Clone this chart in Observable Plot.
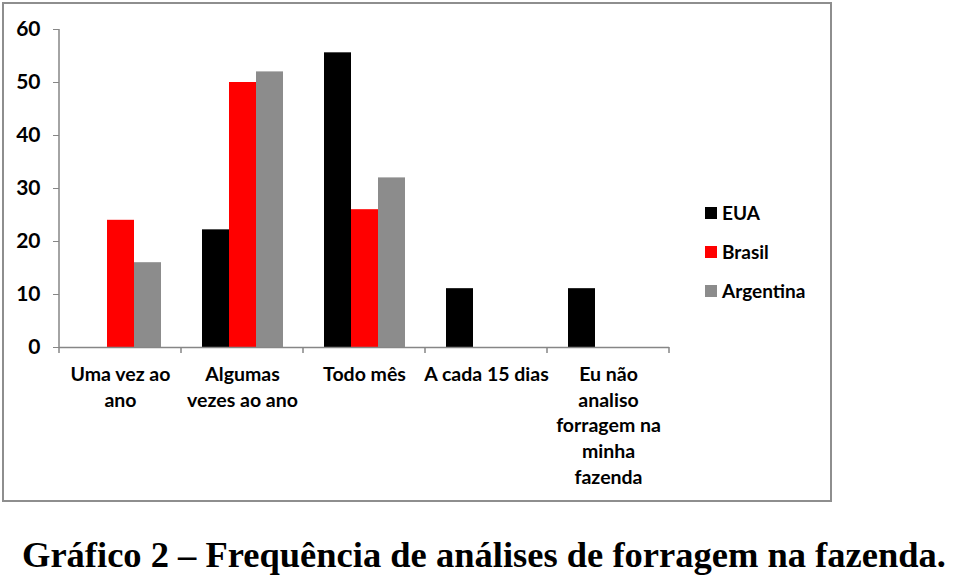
<!DOCTYPE html>
<html>
<head>
<meta charset="utf-8">
<script src="https://cdn.jsdelivr.net/npm/d3@7"></script>
<script src="https://cdn.jsdelivr.net/npm/@observablehq/plot@0.6"></script>
<style>
  html, body { margin: 0; padding: 0; background: #fff; width: 960px; height: 580px; overflow: hidden; }
  #box { position: absolute; left: 2px; top: 2px; width: 826px; height: 496px; border: 2px solid #8e8e8e; box-sizing: content-box; }
  #chart { position: absolute; left: 0; top: 0; }
  #legend { position: absolute; left: 705px; top: 193px; font-family: Lato, "Open Sans", sans-serif; font-weight: bold; font-size: 19px; color: #000; }
  #legend .row { display: flex; align-items: center; height: 39px; }
  #legend .sw { width: 12px; height: 12px; margin-right: 5px; }
  #title { position: absolute; left: 22px; top: 533px; font-family: "Liberation Serif", "Times New Roman", serif; font-weight: bold; font-size: 36.5px; color: #000; white-space: nowrap; }
</style>
</head>
<body>
<div id="chart"></div>
<div id="box"></div>
<div id="legend"></div>
<div id="title">Gráfico 2 – Frequência de análises de forragem na fazenda.</div>
<script>
const categories = ["Uma vez ao ano", "Algumas vezes ao ano", "Todo mês", "A cada 15 dias", "Eu não analiso forragem na minha fazenda"];
const categoryLabels = ["Uma vez ao\nano", "Algumas\nvezes ao ano", "Todo mês", "A cada 15 dias", "Eu não\nanaliso\nforragem na\nminha\nfazenda"];
const series = ["EUA", "Brasil", "Argentina"];
const eua = [0, 22.2, 55.6, 11.1, 11.1];
const brasil = [24, 50, 26, 0, 0];
const argentina = [16, 52, 32, 0, 0];
const colors = ["#000000", "#ff0000", "#8c8c8c"];
const yTicks = [0, 10, 20, 30, 40, 50, 60];

const valuesBySeries = [eua, brasil, argentina];
const data = [];
categories.forEach((c, i) => {
  series.forEach((s, j) => data.push({category: c, series: s, value: valuesBySeries[j][i]}));
});

const plot = Plot.plot({
  width: 700,
  height: 500,
  marginLeft: 57,
  marginRight: 30,
  marginTop: 29,
  marginBottom: 153,
  style: {fontFamily: "Lato, 'Open Sans', sans-serif", fontWeight: "bold", fontSize: "19px", color: "#000", background: "transparent"},
  fx: {domain: categories, padding: 0, axis: null, label: null},
  x: {domain: series, paddingInner: 0, paddingOuter: 0.75, axis: null},
  y: {domain: [0, 60], axis: null},
  color: {domain: series, range: colors},
  marks: [
    Plot.barY(data, {fx: "category", x: "series", y: "value", fill: "series"}),
    Plot.ruleY([0], {stroke: "#868686", strokeWidth: 1.5}),
    Plot.axisY({ticks: yTicks, tickSize: 6, tickPadding: 13, stroke: "#868686", label: null, fill: "#000", fontSize: 21, fontWeight: "bold"}),
    Plot.text(categories, {fx: d => d, text: (d, i) => categoryLabels[i], frameAnchor: "bottom", lineAnchor: "top", dy: 15, lineHeight: 1.32, fontSize: 19.5, fontWeight: "bold", fill: "#000"})
  ]
});
document.getElementById("chart").appendChild(plot);

// axis line and category boundary ticks from the library's scales
const svg = d3.select(plot);
const y = plot.scale("y");
const fx = plot.scale("fx");
const y0 = y.apply(0), y1 = y.apply(60);
const left = fx.apply(categories[0]);
const step = fx.step != null ? fx.step : fx.bandwidth;
const g = svg.append("g").attr("stroke", "#868686").attr("stroke-width", 1.5);
g.append("line").attr("x1", left).attr("x2", left).attr("y1", y1).attr("y2", y0);
for (let i = 0; i <= categories.length; i++) {
  const xx = left + i * step;
  g.append("line").attr("x1", xx).attr("x2", xx).attr("y1", y0).attr("y2", y0 + 6);
}

// legend
const legend = d3.select("#legend");
series.forEach((s, j) => {
  const row = legend.append("div").attr("class", "row");
  row.append("div").attr("class", "sw").style("background", colors[j]);
  row.append("span").text(s);
});
</script>
</body>
</html>
